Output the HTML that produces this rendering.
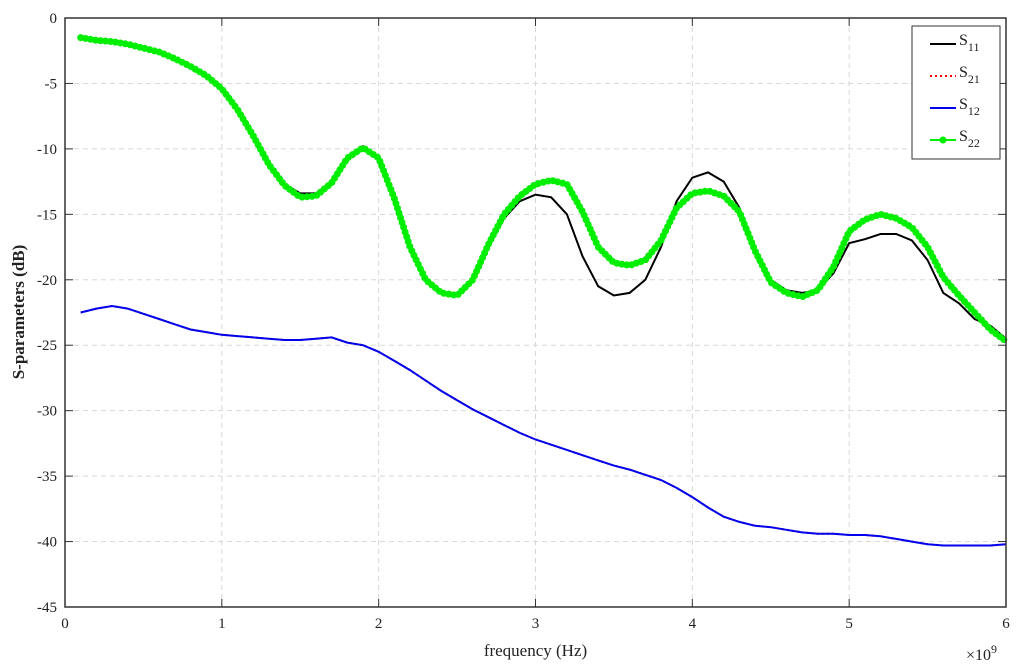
<!DOCTYPE html>
<html><head><meta charset="utf-8"><style>
body{margin:0;background:#fff}
svg{display:block;font-family:"Liberation Serif",serif}
</style></head><body>
<svg id="chart" width="1027" height="670"></svg>
<script>
const freqs=[0.1,0.2,0.3,0.4,0.5,0.6,0.7,0.8,0.9,1.0,1.1,1.2,1.3,1.4,1.5,1.6,1.7,1.8,1.9,2.0,2.1,2.2,2.3,2.4,2.5,2.6,2.7,2.8,2.9,3.0,3.1,3.2,3.3,3.4,3.5,3.6,3.7,3.8,3.9,4.0,4.1,4.2,4.3,4.4,4.5,4.6,4.7,4.8,4.9,5.0,5.1,5.2,5.3,5.4,5.5,5.6,5.7,5.8,5.9,6.0];
const s22=[-1.5,-1.7,-1.8,-2.0,-2.3,-2.6,-3.1,-3.7,-4.4,-5.4,-7.0,-9.0,-11.2,-12.8,-13.7,-13.6,-12.6,-10.7,-9.9,-10.7,-13.8,-17.5,-20.0,-21.0,-21.2,-20.0,-17.3,-15.0,-13.6,-12.7,-12.4,-12.7,-14.8,-17.5,-18.7,-18.9,-18.5,-17.0,-14.5,-13.4,-13.2,-13.6,-14.8,-17.8,-20.2,-21.0,-21.3,-20.8,-19.0,-16.3,-15.4,-15.0,-15.3,-16.0,-17.5,-19.8,-21.2,-22.5,-23.8,-24.7];
const s11=[-1.5,-1.7,-1.8,-2.0,-2.3,-2.6,-3.1,-3.7,-4.4,-5.4,-7.0,-9.0,-11.2,-12.7,-13.4,-13.4,-12.5,-10.6,-9.8,-10.6,-13.8,-17.5,-20.0,-21.0,-21.1,-20.0,-17.5,-15.3,-14.0,-13.5,-13.7,-15.0,-18.2,-20.5,-21.2,-21.0,-20.0,-17.5,-14.0,-12.2,-11.8,-12.5,-14.5,-17.8,-20.0,-20.8,-21.0,-20.8,-19.5,-17.2,-16.9,-16.5,-16.5,-17.0,-18.5,-21.0,-21.8,-23.0,-23.5,-24.5];
const s12=[-22.5,-22.2,-22.0,-22.2,-22.6,-23.0,-23.4,-23.8,-24.0,-24.2,-24.3,-24.4,-24.5,-24.6,-24.6,-24.5,-24.4,-24.8,-25.0,-25.5,-26.2,-26.9,-27.7,-28.5,-29.2,-29.9,-30.5,-31.1,-31.7,-32.2,-32.6,-33.0,-33.4,-33.8,-34.2,-34.5,-34.9,-35.3,-35.9,-36.6,-37.4,-38.1,-38.5,-38.8,-38.9,-39.1,-39.3,-39.4,-39.4,-39.5,-39.5,-39.6,-39.8,-40.0,-40.2,-40.3,-40.3,-40.3,-40.3,-40.2];
const s21=s12.slice();
const xTicks=[0,1,2,3,4,5,6];
const yTicks=[0,-5,-10,-15,-20,-25,-30,-35,-40,-45];

const L=65,R=1006,T=18,B=607;
const X=v=>L+(v/6)*(R-L);
const Y=v=>T+(-v/45)*(B-T);
const svg=document.getElementById('chart');
const NS='http://www.w3.org/2000/svg';
function mk(tag,attrs,parent){const e=document.createElementNS(NS,tag);for(const k in attrs)e.setAttribute(k,attrs[k]);(parent||svg).appendChild(e);return e;}

xTicks.forEach(t=>{
  if(t>0&&t<6){const g=mk('line',{x1:X(t),x2:X(t),y1:T,y2:B,stroke:'#d8d8d8','stroke-dasharray':'5,4'});
  
  }
  const tk=mk('line',{x1:X(t),x2:X(t),y1:B,y2:B-8,stroke:'#333'});
  mk('line',{x1:X(t),x2:X(t),y1:T,y2:T+8,stroke:'#333'});
  const tx=mk('text',{x:X(t),y:B+21,'text-anchor':'middle','font-size':15,fill:'#222'});
  tx.textContent=t;
  
  
});
yTicks.forEach(t=>{
  if(t<0&&t>-45){const g=mk('line',{x1:L,x2:R,y1:Y(t),y2:Y(t),stroke:'#d8d8d8','stroke-dasharray':'5,4'});
  
  }
  mk('line',{x1:L,x2:L+8,y1:Y(t),y2:Y(t),stroke:'#333'});
  mk('line',{x1:R,x2:R-8,y1:Y(t),y2:Y(t),stroke:'#333'});
  const tx=mk('text',{x:L-8,y:Y(t)+5,'text-anchor':'end','font-size':15,fill:'#222'});
  tx.textContent=t;
  
  
});

function pts(arr){return arr.map((v,i)=>X(freqs[i]).toFixed(1)+','+Y(v).toFixed(1)).join(' ');}
const p21=mk('polyline',{points:pts(s21),fill:'none',stroke:'red','stroke-width':2,'stroke-dasharray':'2,3'});


const p12=mk('polyline',{points:pts(s12),fill:'none',stroke:'#0000ee','stroke-width':2});


const p11=mk('polyline',{points:pts(s11),fill:'none',stroke:'#000','stroke-width':2});


const p22=mk('polyline',{points:pts(s22),fill:'none',stroke:'#00ee00','stroke-width':2});


const p22m=mk('polyline',{points:pts(s22),fill:'none',stroke:'#00ee00','stroke-width':7,'stroke-linecap':'round','stroke-dasharray':'0,5'});



const frame=mk('rect',{x:L,y:T,width:R-L,height:B-T,fill:'none',stroke:'#333','stroke-width':1.5});



const xl=mk('text',{x:(L+R)/2,y:656,'text-anchor':'middle','font-size':17,fill:'#222'});
xl.textContent='frequency (Hz)';


const ex=mk('text',{x:966,y:660,'font-size':16,fill:'#222'});
ex.innerHTML='×10<tspan dy="-7" font-size="12">9</tspan>';


const yl=mk('text',{x:0,y:0,'text-anchor':'middle','font-size':17,'font-weight':'bold',fill:'#222',transform:'translate(24,312) rotate(-90)'});
yl.textContent='S-parameters (dB)';



const lg=mk('g',{});


mk('rect',{x:912,y:26,width:88,height:133,fill:'#fff',stroke:'#333'},lg);
const names=[['11','#000','none'],['21','red','2,3'],['12','#0000ee','none'],['22','#00ee00','none']];
names.forEach((n,i)=>{
  const yy=44+i*32;
  const e=mk('g',{},lg);
  
  
  mk('line',{x1:930,x2:956,y1:yy,y2:yy,stroke:n[1],'stroke-width':2,'stroke-dasharray':n[2]},e);
  if(i===3)mk('circle',{cx:943,cy:yy,r:3.5,fill:'#00ee00'},e);
  const t=mk('text',{x:959,y:yy+1,'font-size':16,fill:'#222'},e);
  t.innerHTML='S<tspan dy="6" font-size="12">'+n[0]+'</tspan>';
});
</script>
</body></html>
